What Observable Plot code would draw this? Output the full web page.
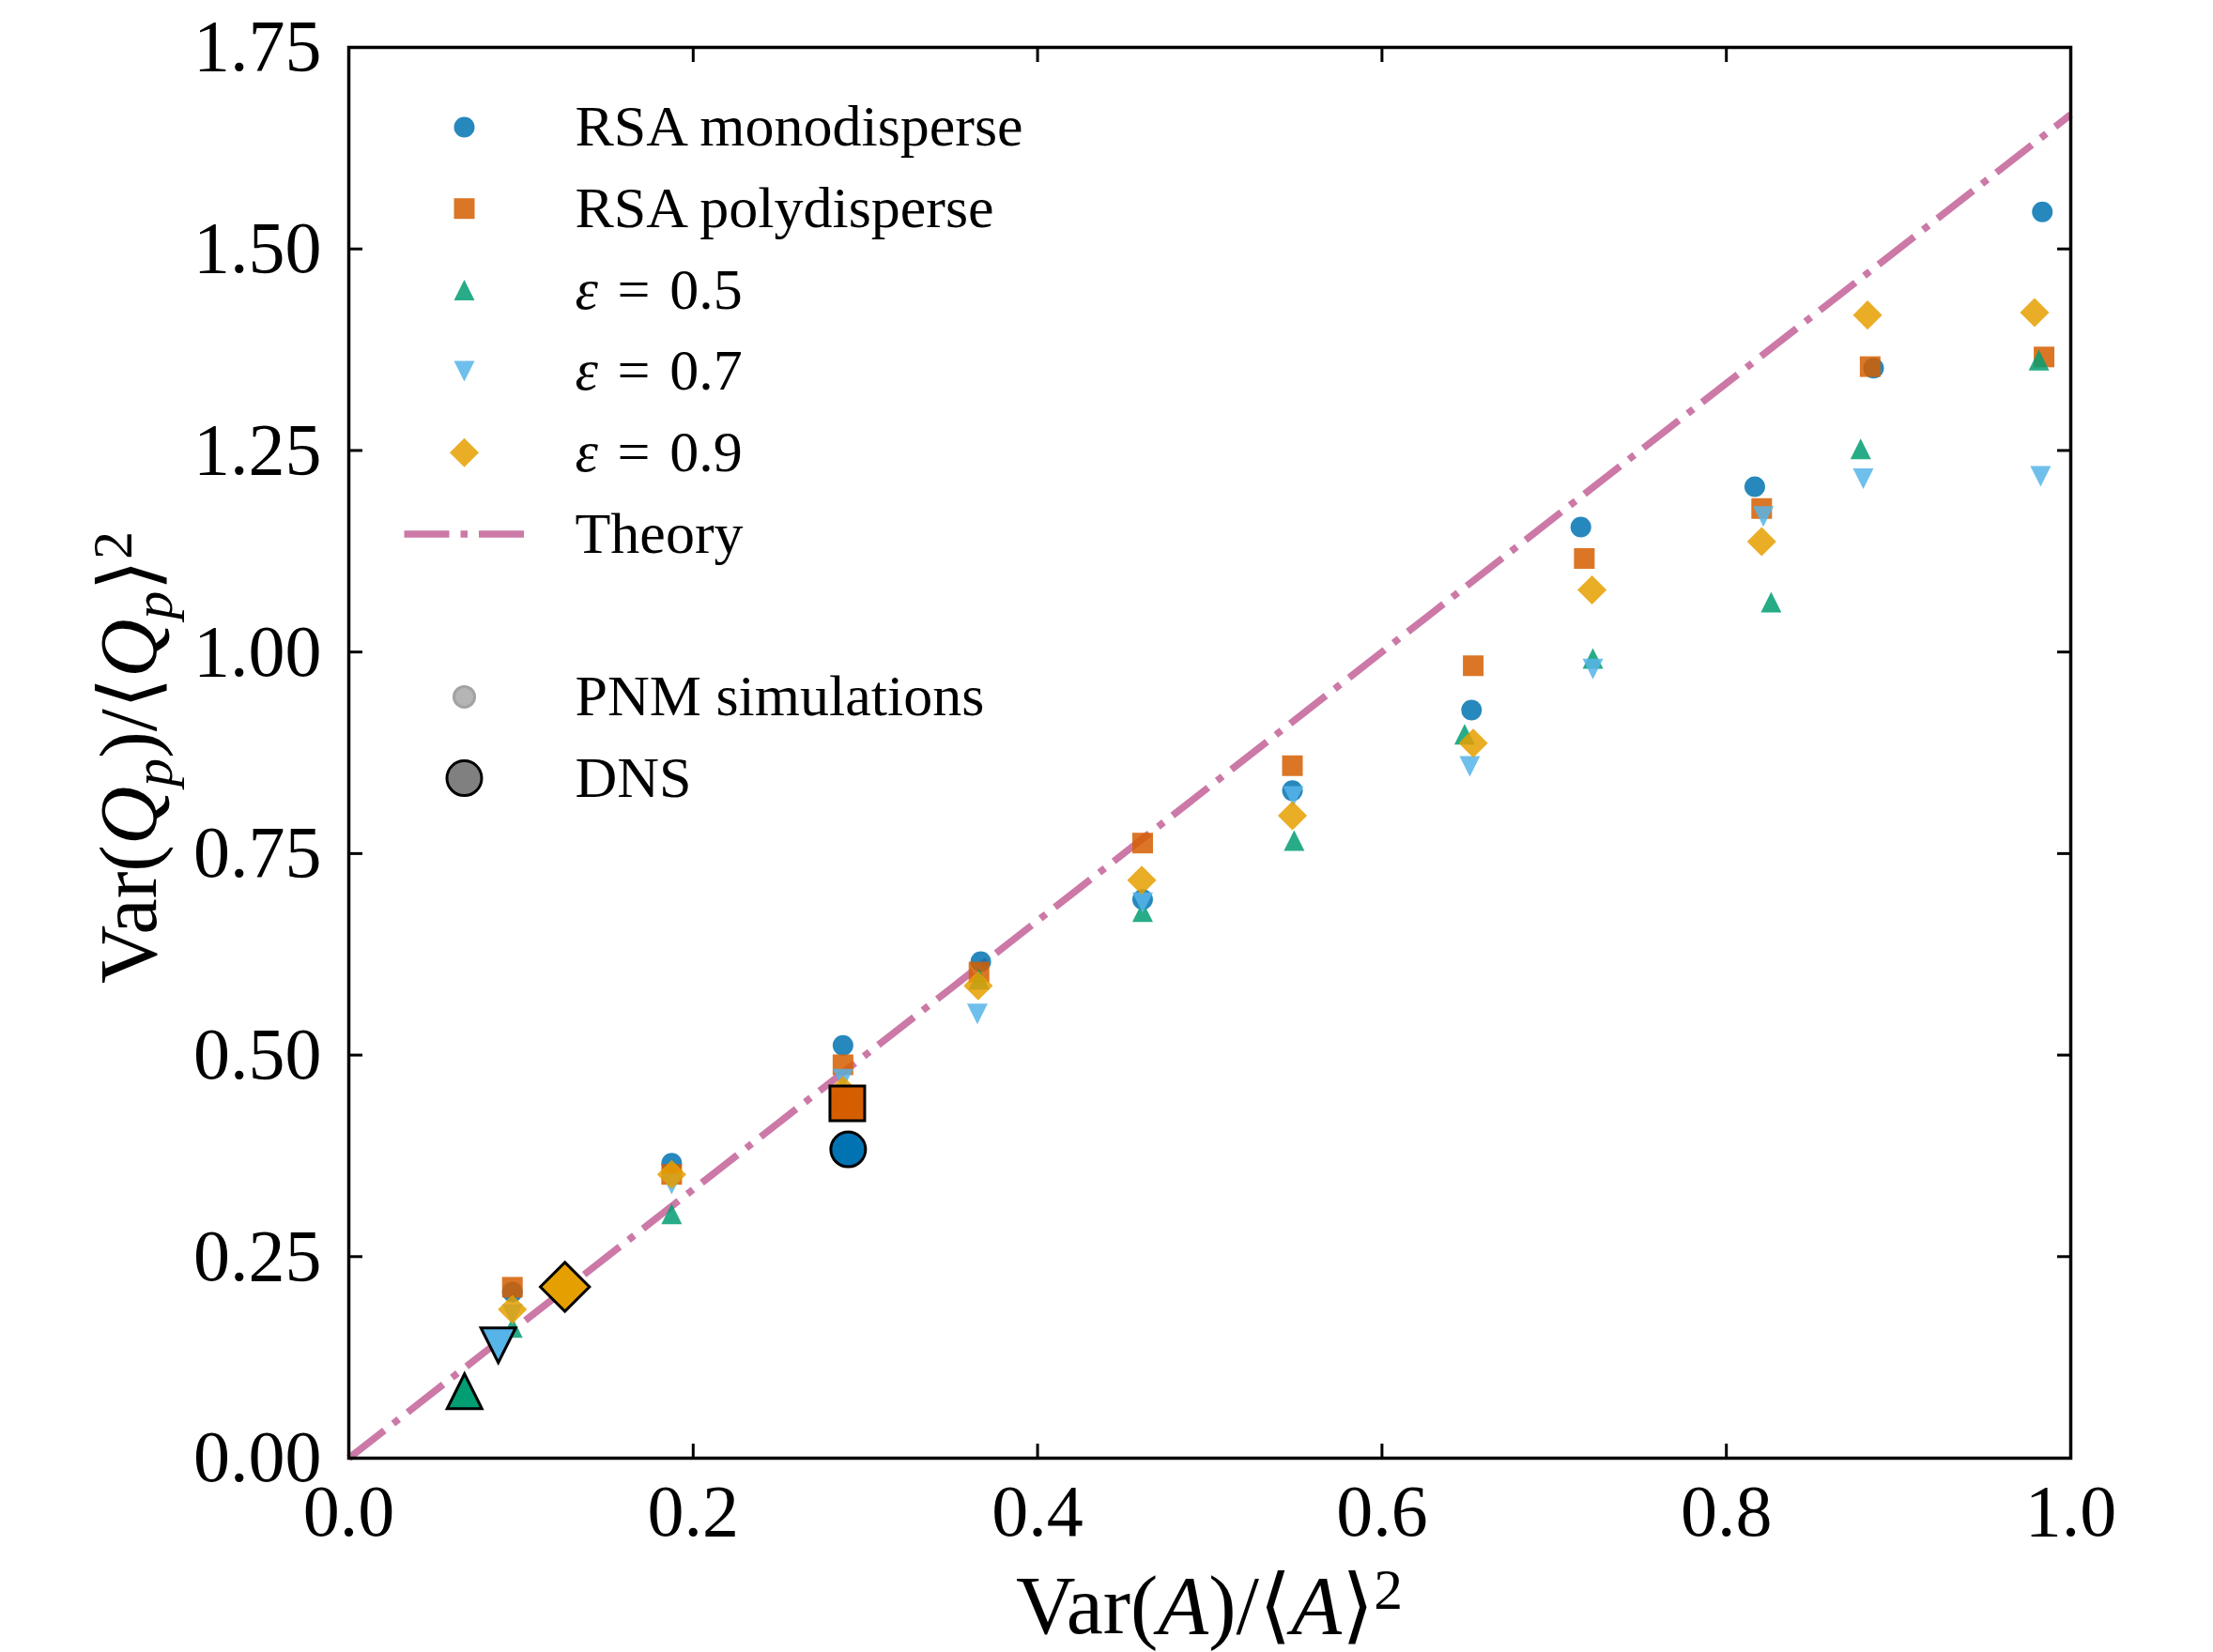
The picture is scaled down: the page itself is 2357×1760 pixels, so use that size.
<!DOCTYPE html>
<html>
<head>
<meta charset="utf-8">
<script src="https://cdn.jsdelivr.net/npm/d3@7"></script>
<script src="https://cdn.jsdelivr.net/npm/@observablehq/plot@0.6"></script>
<style>
  html, body { margin: 0; padding: 0; background: #ffffff; }
  svg { display: block; }
</style>
</head>
<body>
<div id="chart"></div>
<script>
// ---------------- data ----------------
const seriesNames = ["RSA monodisperse", "RSA polydisperse", "ε\u2004=\u20040.5", "ε\u2004=\u20040.7", "ε\u2004=\u20040.9"];
const seriesColors = ["#0173B2", "#D55E00", "#029E73", "#56B4E9", "#E69F00"];

// PNM simulations
const monoX = [0.095, 0.1875, 0.287, 0.367, 0.461, 0.548, 0.652, 0.7155, 0.8165, 0.8855, 0.9835];
const monoY = [0.206, 0.366, 0.512, 0.616, 0.693, 0.828, 0.928, 1.155, 1.205, 1.352, 1.546];
const polyX = [0.095, 0.1875, 0.287, 0.366, 0.461, 0.548, 0.653, 0.7175, 0.8205, 0.8835, 0.9845];
const polyY = [0.212, 0.352, 0.488, 0.603, 0.763, 0.859, 0.983, 1.116, 1.178, 1.354, 1.366];
const eps05X = [0.095, 0.1875, 0.287, 0.366, 0.461, 0.549, 0.648, 0.7225, 0.826, 0.878, 0.9815];
const eps05Y = [0.162, 0.303, 0.452, 0.594, 0.678, 0.766, 0.898, 0.992, 1.062, 1.252, 1.362];
const eps07X = [0.095, 0.1875, 0.287, 0.365, 0.461, 0.5485, 0.651, 0.7225, 0.8215, 0.8795, 0.9825];
const eps07Y = [0.178, 0.340, 0.470, 0.551, 0.689, 0.821, 0.858, 0.979, 1.168, 1.215, 1.218];
const eps09X = [0.095, 0.1875, 0.287, 0.3655, 0.4605, 0.548, 0.653, 0.722, 0.8205, 0.882, 0.979];
const eps09Y = [0.1845, 0.352, 0.456, 0.586, 0.717, 0.797, 0.887, 1.077, 1.137, 1.418, 1.421];

// DNS (same series order)
const dnsX = [0.290, 0.2895, 0.0672, 0.0868, 0.1255];
const dnsY = [0.383, 0.440, 0.083, 0.140, 0.2125];

// Theory line
const theoryX = [0, 1];
const theoryY = [0, 1.6667];

// Ticks
const xTicks = [0, 0.2, 0.4, 0.6, 0.8, 1.0];
const yTicks = [0, 0.25, 0.5, 0.75, 1.0, 1.25, 1.5, 1.75];

// ---------------- matplotlib-like marker symbols ----------------
const half = size => Math.sqrt(size / Math.PI); // = r (half of markersize)
const mplCircle = { draw(c, s) { const r = half(s); c.moveTo(r, 0); c.arc(0, 0, r, 0, 2 * Math.PI); c.closePath(); } };
const mplSquare = { draw(c, s) { const h = half(s); c.moveTo(-h, -h); c.lineTo(h, -h); c.lineTo(h, h); c.lineTo(-h, h); c.closePath(); } };
const mplTriUp = { draw(c, s) { const h = half(s); c.moveTo(0, -h); c.lineTo(h, h); c.lineTo(-h, h); c.closePath(); } };
const mplTriDown = { draw(c, s) { const h = half(s); c.moveTo(0, h); c.lineTo(h, -h); c.lineTo(-h, -h); c.closePath(); } };
const mplDiamond = { draw(c, s) { const h = half(s) * Math.SQRT2; c.moveTo(0, -h); c.lineTo(h, 0); c.lineTo(0, h); c.lineTo(-h, 0); c.closePath(); } };
const hLine = { draw(c, s) { const h = half(s); c.moveTo(-h, 0); c.lineTo(h, 0); } };
const seriesSymbols = [mplCircle, mplSquare, mplTriUp, mplTriDown, mplDiamond];

const pnmX = [monoX, polyX, eps05X, eps07X, eps09X];
const pnmY = [monoY, polyY, eps05Y, eps07Y, eps09Y];

const toRows = (xs, ys) => xs.map((x, i) => ({ x, y: ys[i] }));
const theory = toRows(theoryX, theoryY);

const PNM_R = 11, DNS_R = 18.5;
const theoryStyle = { stroke: "#CC79A7", strokeWidth: 7.5, strokeDasharray: "48,12,7.5,12", strokeLinecap: "butt" };

// ---------------- marks ----------------
const marks = [];
marks.push(Plot.line(theory, { x: "x", y: "y", ...theoryStyle }));

seriesNames.forEach((name, i) => {
  marks.push(Plot.dot(toRows(pnmX[i], pnmY[i]), {
    x: "x", y: "y", symbol: seriesSymbols[i], r: PNM_R,
    fill: seriesColors[i], fillOpacity: 0.85, stroke: "none"
  }));
});
seriesNames.forEach((name, i) => {
  marks.push(Plot.dot([{ x: dnsX[i], y: dnsY[i] }], {
    x: "x", y: "y", symbol: seriesSymbols[i], r: DNS_R,
    fill: seriesColors[i], stroke: "black", strokeWidth: 3
  }));
});

// frame and axes (inward ticks on all four sides)
marks.push(Plot.frame({ stroke: "black", strokeWidth: 3.5 }));
const tickOpts = { tickSize: -15, fill: "none", stroke: "black", strokeWidth: 3, label: null };
marks.push(Plot.axisX({ anchor: "bottom", ticks: xTicks, ...tickOpts }));
marks.push(Plot.axisX({ anchor: "top", ticks: xTicks, ...tickOpts }));
marks.push(Plot.axisY({ anchor: "left", ticks: yTicks, ...tickOpts }));
marks.push(Plot.axisY({ anchor: "right", ticks: yTicks, ...tickOpts }));
marks.push(Plot.axisX({ anchor: "bottom", ticks: xTicks, tickSize: 0, tickPadding: 27, fontSize: 78,
  tickFormat: d => d.toFixed(1), label: null, fill: "black" }));
marks.push(Plot.axisY({ anchor: "left", ticks: yTicks, tickSize: 0, tickPadding: 29, fontSize: 78,
  tickFormat: d => d.toFixed(2), label: null, fill: "black" }));

// legend (inside the frame, top-left)
const LEG_SYM_DX = 123, LEG_TXT_DX = 241, LEG_DY0 = 85, LEG_STEP = 86.7;
const legendEntries = [
  ...seriesNames.map((name, i) => ({ label: name, row: i, symbol: seriesSymbols[i], r: PNM_R, fill: seriesColors[i], fillOpacity: 0.85, stroke: "none" })),
  { label: "Theory", row: 5, line: true },
  { label: "PNM simulations", row: 7, symbol: mplCircle, r: PNM_R, fill: "#b5b5b5", fillOpacity: 1, stroke: "#a2a2a2", strokeWidth: 3 },
  { label: "DNS", row: 8, symbol: mplCircle, r: DNS_R, fill: "#808080", fillOpacity: 1, stroke: "black", strokeWidth: 3 }
];
legendEntries.forEach(e => {
  const dy = LEG_DY0 + e.row * LEG_STEP;
  if (e.line) {
    marks.push(Plot.dot([e], { frameAnchor: "top-left", dx: LEG_SYM_DX, dy, symbol: hLine, r: 64, fill: "none", ...theoryStyle }));
  } else {
    marks.push(Plot.dot([e], { frameAnchor: "top-left", dx: LEG_SYM_DX, dy, symbol: e.symbol, r: e.r,
      fill: e.fill, fillOpacity: e.fillOpacity, stroke: e.stroke, strokeWidth: e.strokeWidth || 0 }));
  }
  marks.push(Plot.text([e], { frameAnchor: "top-left", dx: LEG_TXT_DX, dy, text: d => d.label,
    textAnchor: "start", lineAnchor: "middle", fontSize: 62, fill: "black" }));
});

const chart = Plot.plot({
  width: 2357, height: 1760,
  marginLeft: 371, marginRight: 152, marginTop: 50, marginBottom: 207,
  x: { domain: [0, 1] },
  y: { domain: [0, 1.75] },
  style: { fontFamily: "'Liberation Serif', 'DejaVu Serif', serif", background: "#ffffff", color: "black", overflow: "visible" },
  marks
});
document.getElementById("chart").appendChild(chart);

// ---------------- math-style text post-processing ----------------
const svg = d3.select(chart);
// italic epsilon in legend
svg.selectAll("text, tspan").each(function () {
  const el = this;
  if (el.childNodes.length === 1 && el.firstChild.nodeType === 3 && /^ε\s/.test(el.textContent)) {
    const rest = el.textContent.slice(1);
    el.textContent = "";
    d3.select(el).append("tspan").attr("font-style", "italic").text("ε");
    d3.select(el).append("tspan").text(rest);
  }
});

function mathLabel(g, parts, fontSize) {
  const t = g.append("text").attr("text-anchor", "middle").attr("font-size", fontSize)
    .attr("font-family", "'Liberation Serif', 'DejaVu Serif', serif").attr("fill", "black");
  let shift = 0;
  parts.forEach(p => {
    const ts = t.append("tspan").text(p.t);
    if (p.i) ts.attr("font-style", "italic");
    const want = p.sub ? 0.2 * fontSize : p.sup ? -0.3 * fontSize : 0;
    if (want !== shift) { ts.attr("dy", want - shift); shift = want; }
    if (p.sub || p.sup) ts.attr("font-size", 0.7 * fontSize);
  });
  return t;
}
const xLabel = svg.append("g").attr("transform", "translate(1288,1740)");
mathLabel(xLabel, [{ t: "Var(" }, { t: "A", i: 1 }, { t: ")/\u27E8" }, { t: "A", i: 1 }, { t: "\u27E9" }, { t: "2", sup: 1 }], 88);
const yLabel = svg.append("g").attr("transform", "translate(166,807) rotate(-90)");
mathLabel(yLabel, [{ t: "Var(" }, { t: "Q", i: 1 }, { t: "p", i: 1, sub: 1 }, { t: ")/\u27E8" }, { t: "Q", i: 1 }, { t: "p", i: 1, sub: 1 }, { t: "\u27E9" }, { t: "2", sup: 1 }], 86);
</script>
</body>
</html>
